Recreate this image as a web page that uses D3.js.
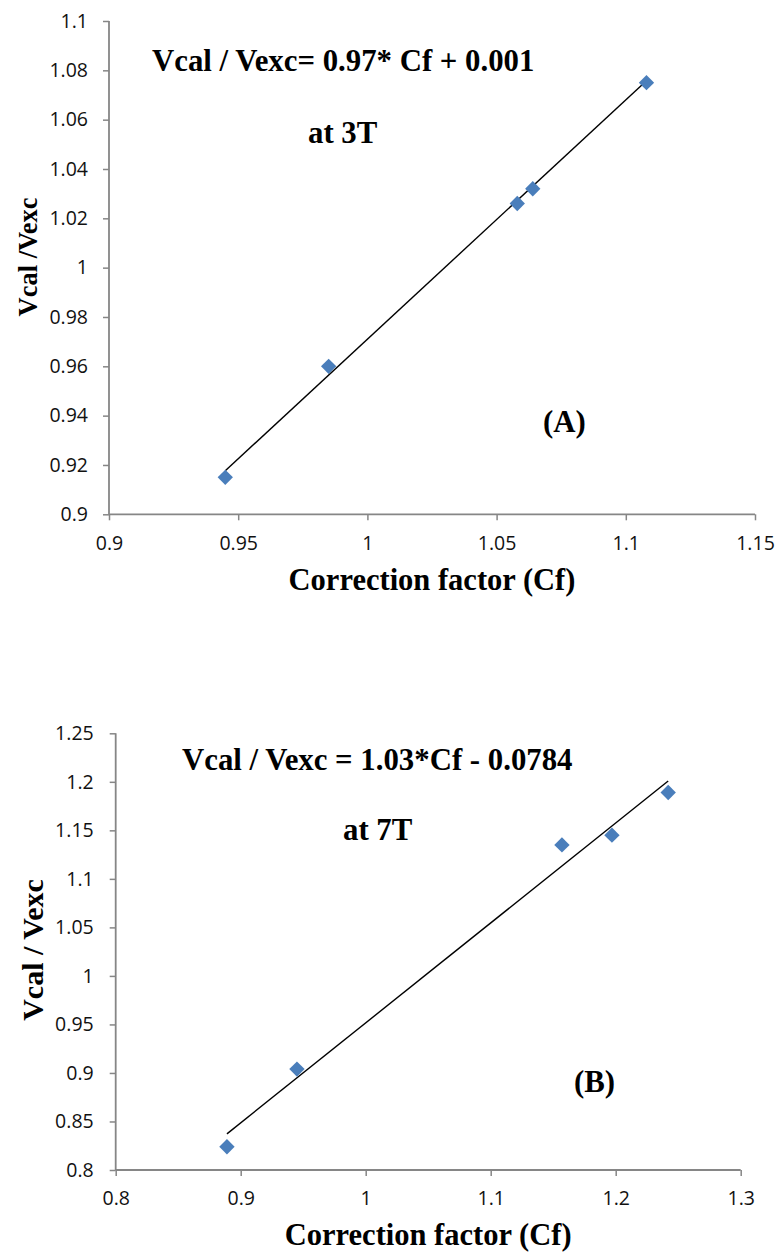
<!DOCTYPE html>
<html>
<head>
<meta charset="utf-8">
<script src="https://cdn.jsdelivr.net/npm/d3@7"></script>
<style>
  html, body { margin: 0; padding: 0; background: #fff; }
  svg { display: block; }
</style>
</head>
<body>
<svg id="chart" width="776" height="1254"></svg>
<script>
// ---------- Data: panel A (3T) ----------
const cfA = [0.945, 0.985, 1.058, 1.064, 1.108];
const ratioA = [0.915, 0.960, 1.026, 1.032, 1.075];
const fitA = [0.97, 0.001]; // slope, intercept
const xTicksA = [0.9, 0.95, 1, 1.05, 1.1, 1.15];
const xTickLabelsA = ["0.9", "0.95", "1", "1.05", "1.1", "1.15"];
const yTicksA = [0.9, 0.92, 0.94, 0.96, 0.98, 1, 1.02, 1.04, 1.06, 1.08, 1.1];
const yTickLabelsA = ["0.9", "0.92", "0.94", "0.96", "0.98", "1", "1.02", "1.04", "1.06", "1.08", "1.1"];

// ---------- Data: panel B (7T) ----------
const cfB = [0.889, 0.945, 1.157, 1.197, 1.242];
const ratioB = [0.824, 0.904, 1.135, 1.145, 1.189];
const fitB = [1.03, -0.0784];
const xTicksB = [0.8, 0.9, 1, 1.1, 1.2, 1.3];
const xTickLabelsB = ["0.8", "0.9", "1", "1.1", "1.2", "1.3"];
const yTicksB = [0.8, 0.85, 0.9, 0.95, 1, 1.05, 1.1, 1.15, 1.2, 1.25];
const yTickLabelsB = ["0.8", "0.85", "0.9", "0.95", "1", "1.05", "1.1", "1.15", "1.2", "1.25"];

const svg = d3.select("#chart");
const AXIS_COLOR = "#868686";
const MARKER_COLOR = "#4a7ebb";
const TICK_FONT = "'Open Sans', 'Liberation Sans', sans-serif";
const SERIF = "'Liberation Serif', 'Times New Roman', serif";

function panel(cfg) {
  const x = d3.scaleLinear().domain(cfg.xDomain).range(cfg.xRange);
  const y = d3.scaleLinear().domain(cfg.yDomain).range(cfg.yRange);
  const g = svg.append("g");

  const yAxis = d3.axisLeft(y)
    .tickValues(cfg.yTicks)
    .tickFormat((d, i) => cfg.yLabels[i])
    .tickSize(6)
    .tickPadding(cfg.yPad);
  const gy = g.append("g").attr("transform", `translate(${cfg.xRange[0]},0)`).call(yAxis);

  const xAxis = d3.axisBottom(x)
    .tickValues(cfg.xTicks)
    .tickFormat((d, i) => cfg.xLabels[i])
    .tickSize(6)
    .tickPadding(cfg.xPad);
  const gx = g.append("g").attr("transform", `translate(0,${cfg.yRange[0]})`).call(xAxis);

  [gx, gy].forEach(a => {
    a.attr("font-size", null).attr("font-family", null);
    a.select(".domain").attr("stroke", AXIS_COLOR).attr("stroke-width", 1.8);
    a.selectAll(".tick line").attr("stroke", AXIS_COLOR).attr("stroke-width", 1.5);
    a.selectAll(".tick text")
      .attr("fill", "#111")
      .style("font-family", TICK_FONT)
      .style("font-size", "19.5px");
  });
  gy.select(".domain").attr("d", `M0,${cfg.yRange[0]}V${cfg.yRange[1]}`);
  gx.select(".domain").attr("d", `M${cfg.xRange[0]},0H${cfg.xRange[1]}`);

  // trend line
  const x0 = d3.min(cfg.xs), x1 = d3.max(cfg.xs);
  const line = d3.line().x(d => x(d[0])).y(d => y(d[1]));
  g.append("path")
    .datum([[x0, cfg.fit[0] * x0 + cfg.fit[1]], [x1, cfg.fit[0] * x1 + cfg.fit[1]]])
    .attr("d", line)
    .attr("fill", "none")
    .attr("stroke", "#000")
    .attr("stroke-width", 1.4);

  // markers (diamonds)
  const sym = d3.symbol().type(d3.symbolDiamond2).size(150);
  g.selectAll("path.pt")
    .data(cfg.xs.map((v, i) => [v, cfg.ys[i]]))
    .join("path")
    .attr("class", "pt")
    .attr("transform", d => `translate(${x(d[0])},${y(d[1])})`)
    .attr("d", sym)
    .attr("fill", MARKER_COLOR);

  // axis titles
  g.append("text")
    .attr("x", (cfg.xRange[0] + cfg.xRange[1]) / 2)
    .attr("y", cfg.xTitleY)
    .attr("text-anchor", "middle")
    .style("font-family", SERIF).style("font-weight", "bold").style("font-size", "30.5px")
    .text("Correction factor (Cf)");

  g.append("text")
    .attr("transform", `translate(${cfg.yTitleX},${cfg.yTitleCY}) rotate(-90)`)
    .attr("text-anchor", "middle")
    .style("font-family", SERIF).style("font-weight", "bold").style("font-size", cfg.yTitleSize + "px")
    .text(cfg.yTitle);

  cfg.notes.forEach(n => {
    g.append("text")
      .attr("x", n.x).attr("y", n.y)
      .attr("text-anchor", n.anchor || "start")
      .style("font-family", SERIF).style("font-weight", "bold").style("font-size", "30.8px")
      .text(n.t);
  });
}

panel({
  xDomain: [0.9, 1.15], xRange: [109, 755],
  yDomain: [0.9, 1.1], yRange: [514.3, 21],
  xTicks: xTicksA, xLabels: xTickLabelsA,
  yTicks: yTicksA, yLabels: yTickLabelsA,
  xPad: 16, yPad: 15,
  xs: cfA, ys: ratioA, fit: fitA,
  xTitleY: 590,
  yTitle: "Vcal /Vexc", yTitleX: 37, yTitleCY: 257, yTitleSize: 26.5,
  notes: [
    { t: "Vcal / Vexc= 0.97* Cf + 0.001", x: 152, y: 71 },
    { t: "at 3T", x: 308, y: 143 },
    { t: "(A)", x: 543, y: 432 }
  ]
});

panel({
  xDomain: [0.8, 1.3], xRange: [115.7, 740.7],
  yDomain: [0.8, 1.25], yRange: [1170, 733.3],
  xTicks: xTicksB, xLabels: xTickLabelsB,
  yTicks: yTicksB, yLabels: yTickLabelsB,
  xPad: 15, yPad: 16,
  xs: cfB, ys: ratioB, fit: fitB,
  xTitleY: 1245,
  yTitle: "Vcal / Vexc", yTitleX: 43, yTitleCY: 950, yTitleSize: 30,
  notes: [
    { t: "Vcal / Vexc = 1.03*Cf - 0.0784", x: 182, y: 770 },
    { t: "at 7T", x: 343, y: 840 },
    { t: "(B)", x: 574, y: 1092 }
  ]
});
</script>
</body>
</html>
